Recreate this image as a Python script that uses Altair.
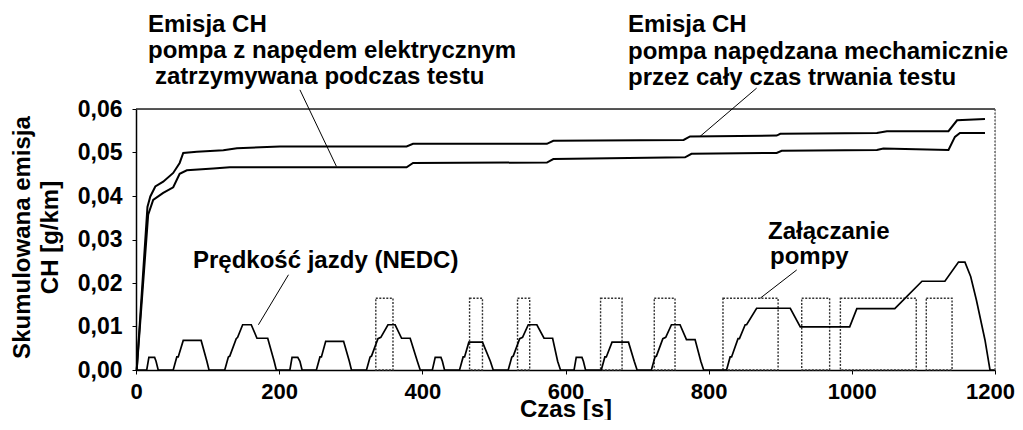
import altair as alt
import pandas as pd

X_MAX = 1200
Y_MAX = 0.06
FONT = "Liberation Sans"

# Cumulative CH emission - pump driven mechanically during the whole test (upper curve)
mech_t = [1, 16, 20, 27, 38, 52, 61, 66, 85, 122, 141, 201, 378, 387, 574, 583,
          765, 774, 895, 900, 1035, 1049, 1135, 1147, 1186]
mech_v = [0.0, 0.0375, 0.0399, 0.0422, 0.0433, 0.0453, 0.0476, 0.0499, 0.0502,
          0.0505, 0.0510, 0.0514, 0.0514, 0.0520, 0.0520, 0.0527, 0.0529, 0.0537,
          0.0539, 0.0543, 0.0545, 0.0549, 0.0549, 0.0574, 0.0577]

# Cumulative CH emission - electric pump stopped during the test (lower curve)
elec_t = [1, 17, 24, 38, 52, 61, 71, 108, 131, 378, 387, 574, 583, 767, 776,
          895, 902, 1035, 1044, 1135, 1144, 1151, 1186]
elec_v = [0.0, 0.0357, 0.0391, 0.0407, 0.0420, 0.0451, 0.0459, 0.0463, 0.0466,
          0.0466, 0.0476, 0.0477, 0.0485, 0.0489, 0.0497, 0.0499, 0.0504, 0.0506,
          0.0509, 0.0506, 0.0536, 0.0545, 0.0545]

# Driving speed (NEDC), drawn in the chart's units
speed_t = [0, 15, 18, 26, 28, 31,
           52, 57, 59, 66, 91, 99, 102,
           124, 129, 131, 140, 142, 149, 161, 169, 182, 184, 193, 196,
           215, 218, 226, 229, 232,
           252, 257, 259, 265, 290, 298, 301,
           322, 327, 329, 338, 342, 352, 362, 371, 383, 393, 397,
           414, 418, 426, 428, 431,
           452, 457, 459, 465, 484, 495, 499,
           520, 525, 527, 536, 540, 548, 560, 570, 582, 589, 593,
           612, 615, 623, 625, 628,
           650, 655, 657, 665, 688, 696, 700,
           720, 725, 727, 736, 740, 748, 760, 769, 781, 789, 793,
           825, 830, 832, 841, 843, 851, 853, 867, 914, 928, 997, 1007, 1060,
           1098, 1130, 1149, 1158, 1166, 1174, 1186, 1193, 1200]
speed_v = [0, 0, 0.0029, 0.0029, 0.0020, 0,
           0, 0.0030, 0.0030, 0.0068, 0.0068, 0.0020, 0,
           0, 0.0030, 0.0032, 0.0072, 0.0075, 0.0104, 0.0104, 0.0073, 0.0073, 0.0073, 0.0020, 0,
           0, 0.0029, 0.0029, 0.0020, 0,
           0, 0.0030, 0.0030, 0.0066, 0.0066, 0.0020, 0,
           0, 0.0030, 0.0032, 0.0072, 0.0075, 0.0104, 0.0104, 0.0073, 0.0073, 0.0020, 0,
           0, 0.0029, 0.0029, 0.0020, 0,
           0, 0.0030, 0.0030, 0.0064, 0.0064, 0.0020, 0,
           0, 0.0030, 0.0032, 0.0072, 0.0075, 0.0104, 0.0104, 0.0073, 0.0073, 0.0020, 0,
           0, 0.0029, 0.0029, 0.0020, 0,
           0, 0.0030, 0.0030, 0.0064, 0.0064, 0.0020, 0,
           0, 0.0030, 0.0032, 0.0072, 0.0075, 0.0104, 0.0104, 0.0070, 0.0070, 0.0020, 0,
           0, 0.0030, 0.0030, 0.0072, 0.0072, 0.0104, 0.0104, 0.0142, 0.0142, 0.0099,
           0.0099, 0.0141, 0.0141, 0.0204, 0.0204, 0.0248, 0.0248, 0.0215, 0.0161,
           0.0069, 0, 0]

# Pump switch-on periods
pump_start = [335, 466, 533, 649, 724, 820, 930, 984, 1104]
pump_end = [359, 484, 550, 679, 753, 897, 969, 1090, 1140]
PUMP_LEVEL = 0.0165

# Annotation texts
ann_text = ["Emisja CH", "pompa z napędem elektrycznym", "zatrzymywana podczas testu",
            "Emisja CH", "pompa napędzana mechamicznie", "przez cały czas trwania testu",
            "Prędkość jazdy (NEDC)", "Załączanie", "pompy"]
ann_x = [16.8, 16.8, 26.5, 687.3, 687.3, 687.3, 79.6, 883.0, 885.7]
ann_y = [0.0778, 0.0717, 0.0658, 0.0776, 0.0714, 0.0656, 0.0235, 0.0302, 0.0243]

# Leader lines (from label to curve)
lead_x1 = [229, 867, 213, 923]
lead_y1 = [0.0644, 0.0648, 0.0219, 0.0230]
lead_x2 = [280, 788, 171, 872]
lead_y2 = [0.0468, 0.0537, 0.0104, 0.0165]

xs = alt.Scale(domain=[0, X_MAX], nice=False, zero=False)
ys = alt.Scale(domain=[0, Y_MAX], nice=False, zero=False)

xaxis = alt.Axis(values=[0, 200, 400, 600, 800, 1000, 1200], format="d", title="Czas [s]",
                 grid=False, domainColor="black", domainWidth=1.5, tickColor="black",
                 tickSize=4, labelPadding=7, labelFontSize=22, labelFont=FONT,
                 labelFontWeight="bold", labelColor="black", titleFontSize=24,
                 labelOffset={"condition": {"test": "datum.value == 1200", "value": -5},
                              "value": 0},
                 titleFont=FONT, titleFontWeight="bold", titleColor="black",
                 titleBaseline="alphabetic", titleY=46, labelFlush=False)
yaxis = alt.Axis(values=[0, 0.01, 0.02, 0.03, 0.04, 0.05, 0.06],
                 labelExpr="replace(format(datum.value, '.2f'), '.', ',')",
                 title=["Skumulowana emisja", "CH [g/km]"], grid=False,
                 domainColor="black", domainWidth=1.5, tickColor="black", tickSize=4,
                 labelPadding=10, labelFontSize=23, labelFont=FONT,
                 labelFontWeight="bold", labelColor="black", titleFontSize=24,
                 titleFont=FONT, titleFontWeight="bold", titleColor="black",
                 titleAngle=270, titleAlign="center", titleBaseline="middle",
                 titleLineHeight=28, titleX=-114, titleY=128, labelFlush=False)

mech_df = pd.DataFrame({"t": mech_t, "v": mech_v})
elec_df = pd.DataFrame({"t": elec_t, "v": elec_v})
speed_df = pd.DataFrame({"t": speed_t, "v": speed_v})
pump_df = pd.DataFrame({"s": pump_start, "e": pump_end})
ann_df = pd.DataFrame({"text": ann_text, "x": ann_x, "y": ann_y})
lead_df = pd.DataFrame({"x1": lead_x1, "y1": lead_y1, "x2": lead_x2, "y2": lead_y2})

base_x = alt.X("t:Q", scale=xs, axis=xaxis)
base_y = alt.Y("v:Q", scale=ys, axis=yaxis)

mech = alt.Chart(mech_df).mark_line(color="black", strokeWidth=2).encode(x=base_x, y=base_y)
elec = alt.Chart(elec_df).mark_line(color="black", strokeWidth=2).encode(
    x=alt.X("t:Q", scale=xs), y=alt.Y("v:Q", scale=ys))
speed = alt.Chart(speed_df).mark_line(color="black", strokeWidth=1.7).encode(
    x=alt.X("t:Q", scale=xs), y=alt.Y("v:Q", scale=ys))

pumps = alt.Chart(pump_df).mark_rect(fillOpacity=0, stroke="#333", strokeWidth=1.4,
                                     strokeDash=[2, 1.5]).encode(
    x=alt.X("s:Q", scale=xs), x2="e:Q",
    y=alt.Y("ly:Q", scale=ys), y2="zy:Q"
).transform_calculate(ly=str(PUMP_LEVEL), zy="0")

top_frame = alt.Chart(pd.DataFrame({"a": [0]})).mark_rule(color="#222", strokeWidth=1.5).encode(
    x=alt.datum(0, scale=xs), x2=alt.datum(X_MAX), y=alt.datum(Y_MAX, scale=ys))
right_frame = alt.Chart(pd.DataFrame({"a": [0]})).mark_rule(
    color="#555", strokeWidth=1.3, strokeDash=[2, 1.5]).encode(
    x=alt.datum(X_MAX, scale=xs), y=alt.datum(0, scale=ys), y2=alt.datum(Y_MAX))

leaders = alt.Chart(lead_df).mark_rule(color="black", strokeWidth=1).encode(
    x=alt.X("x1:Q", scale=xs), y=alt.Y("y1:Q", scale=ys), x2="x2:Q", y2="y2:Q")

texts = alt.Chart(ann_df).mark_text(align="left", baseline="alphabetic", font=FONT,
                                    fontSize=24, fontWeight="bold", color="black").encode(
    x=alt.X("x:Q", scale=xs), y=alt.Y("y:Q", scale=ys), text="text:N")

chart = alt.layer(pumps, speed, elec, mech, top_frame, right_frame, leaders, texts).properties(
    width=859, height=261,
    padding={"left": 128, "top": 101, "right": 20, "bottom": 50},
    autosize=alt.AutoSizeParams(type="none"),
).configure_view(stroke=None).configure(font=FONT)

chart.save("out.html", embed_options={"renderer": "svg", "actions": False})
